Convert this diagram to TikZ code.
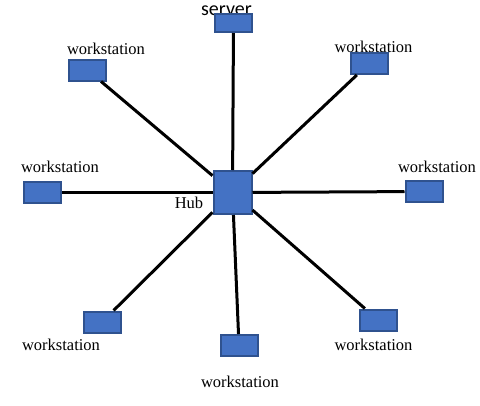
\documentclass[tikz,border=0pt]{standalone}
\usepackage{fontspec}
\setmainfont{Liberation Serif}
\newfontfamily\srvfont{Carlito}
\definecolor{boxfill}{RGB}{68, 114, 196}
\definecolor{boxedge}{RGB}{47, 82, 143}
\tikzset{
    wsbox/.style={draw=boxedge, fill=boxfill, line width=2pt, inner sep=0pt,
        minimum width=37pt, minimum height=21pt},
    hubbox/.style={wsbox, minimum width=38pt, minimum height=43pt},
    wslabel/.style={anchor=base, inner sep=0pt, font=\fontsize{16.5}{18}\selectfont},
    link/.style={line width=3pt},
}

\begin{document}
\begin{tikzpicture}[x=1pt, y=-1pt]
        \useasboundingbox (0, 0) rectangle (480, 405);
        \coordinate (hubpos) at (232.5, 192.5);
        \coordinate (srvpos) at (233.5, 23);
        \node[anchor=base, inner sep=0pt, font=\srvfont\fontsize{20}{22}\selectfont]
            (srvtext) at (226.5, 15) {server};
        \node[wslabel] (tltext) at (106, 54) {workstation};
        \node[wslabel] (trtext) at (373.5, 52) {workstation};
        \node[wslabel] (ltext) at (60, 172) {workstation};
        \node[wslabel] (rtext) at (437, 172) {workstation};
        \node[wslabel] (bltext) at (61, 350) {workstation};
        \node[wslabel] (btext) at (240, 387) {workstation};
        \node[wslabel] (brtext) at (373.5, 350) {workstation};
        \node[wslabel] (hubtext) at (189, 208) {Hub};
        \node[hubbox] (hub) at (hubpos) {};
        \node[wsbox, minimum height=18pt] (srv) at (srvpos) {};
        \node[wsbox] (tl) at (87.5, 70) {};
        \node[wsbox] (tr) at (369, 63.5) {};
        \node[wsbox] (l) at (42, 192.5) {};
        \node[wsbox] (r) at (424, 191.5) {};
        \node[wsbox] (bl) at (102, 322) {};
        \node[wsbox] (b) at (239, 345.5) {};
        \node[wsbox] (br) at (378, 320) {};
        \foreach \ws in {srv, tl, tr, l, r, bl, b, br}
            \draw[link] (hub) -- (\ws);
    \end{tikzpicture}
\end{document}
